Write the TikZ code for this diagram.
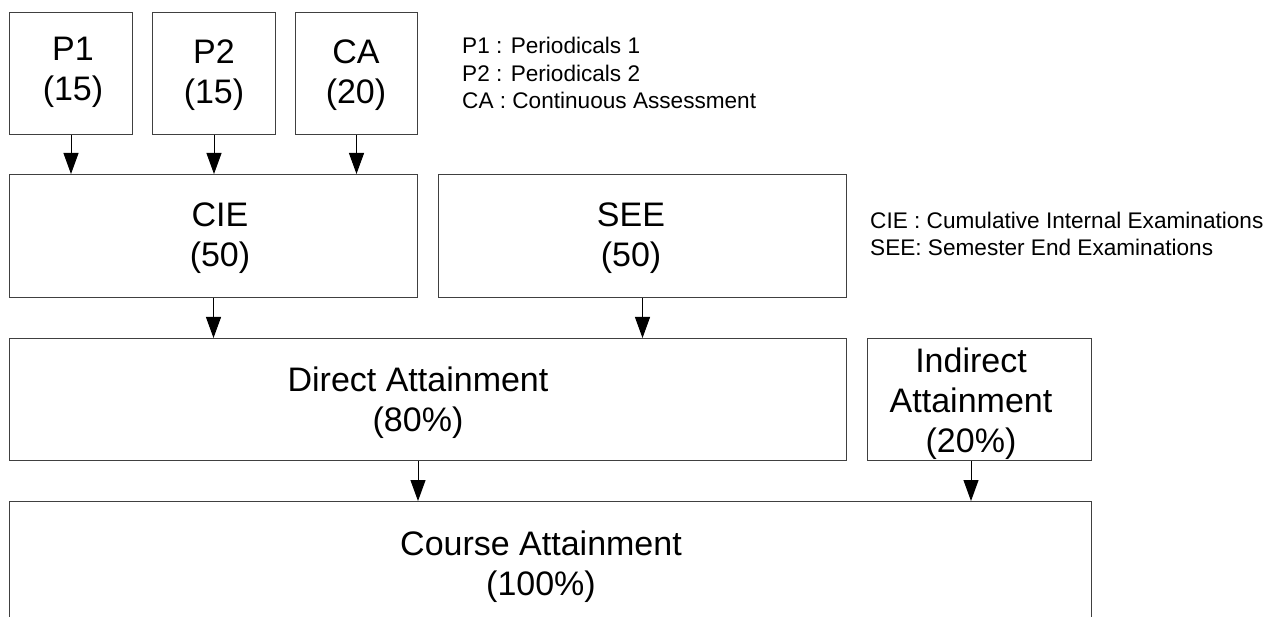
\documentclass[tikz,border=0pt]{standalone}
\usepackage{fontspec}
\setmainfont{Liberation Sans}
\usetikzlibrary{arrows.meta}
\definecolor{boxgray}{RGB}{64,64,64}
\begin{document}
\begin{tikzpicture}[x=1pt,y=-1pt,
  box/.style={draw=boxgray, line width=1pt, inner sep=0pt, anchor=north west},
  boxtext/.style={font=\fontsize{34}{40}\selectfont, align=center, anchor=base, inner sep=0pt},
  legend/.style={font=\fontsize{22.6}{27.5}\selectfont, align=left, anchor=base west, inner sep=0pt},
  flow/.style={draw=black, line width=1pt, -{Triangle[width=15pt,length=21pt]}}]
\useasboundingbox (0,0) rectangle (1268,617);
\clip (0,0) rectangle (1268,617);

% assessment components (text nodes are placed by the baseline of their last line)
\node[box, minimum width=123pt, minimum height=122pt] (p1) at (9,12) {};
\node[box, minimum width=123pt, minimum height=122pt] (p2) at (152,12) {};
\node[box, minimum width=122pt, minimum height=122pt] (ca) at (295,12) {};
\node[boxtext] (p1t) at (73,101) {P1\\(15)};
\node[boxtext] (p2t) at (214,104) {P2\\(15)};
\node[boxtext] (cat) at (356,104) {CA\\(20)};

% examinations
\node[box, minimum width=408pt, minimum height=123pt] (cie) at (9,174) {};
\node[box, minimum width=408pt, minimum height=123pt] (see) at (438,174) {};
\node[boxtext] (ciet) at (220,267) {CIE\\(50)};
\node[boxtext] (seet) at (631,267) {SEE\\(50)};

% attainment
\node[box, minimum width=837pt, minimum height=122pt] (direct) at (9,338) {};
\node[box, minimum width=224pt, minimum height=122pt] (indirect) at (867,338) {};
\node[boxtext] (directt) at (418,431) {Direct Attainment\\(80\%)};
\node[boxtext] (indirectt) at (971,452) {Indirect\\Attainment\\(20\%)};

\node[box, minimum width=1082pt, minimum height=150pt] (course) at (9,501) {};
\node[boxtext] (courset) at (541,595) {Course Attainment\\(100\%)};

% legends
\node[legend] (leg1) at (462,109) {P1 : Periodicals 1\\P2 : Periodicals 2\\CA : Continuous Assessment};
\node[legend] (leg2) at (870,256) {CIE : Cumulative Internal Examinations\\SEE: Semester End Examinations};

% connectors
\draw[flow] (p1.south) -- (p1.south |- cie.north);
\draw[flow] (p2.south) -- (p2.south |- cie.north);
\draw[flow] (ca.south) -- (ca.south |- cie.north);
\draw[flow] (cie.south) -- (cie.south |- direct.north);
\draw[flow] (see.south) -- (see.south |- direct.north);
\draw[flow] (directt |- direct.south) -- (directt |- course.north);
\draw[flow] (indirectt |- indirect.south) -- (indirectt |- course.north);
\end{tikzpicture}
\end{document}
